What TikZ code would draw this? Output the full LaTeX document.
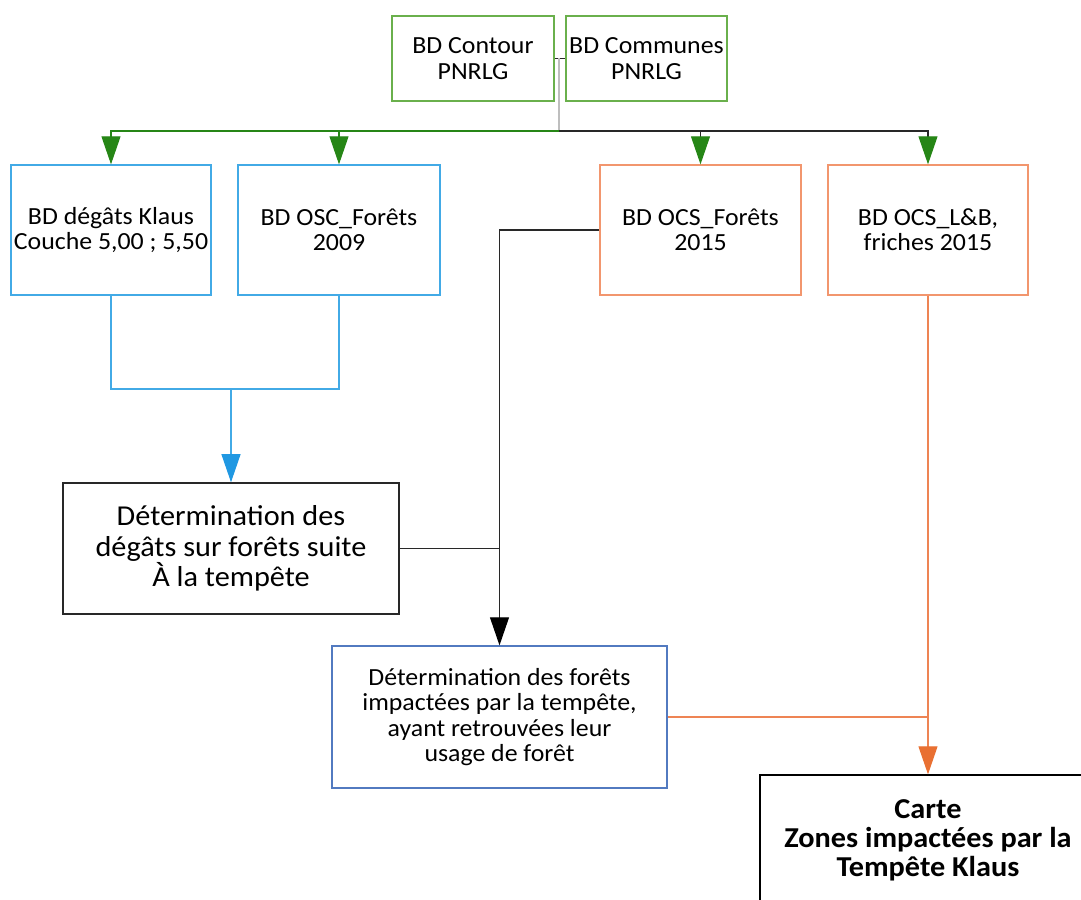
\documentclass[tikz,border=0pt]{standalone}
\usepackage{fontspec}
\setmainfont{Carlito}[FakeStretch=1.05]
\usetikzlibrary{arrows.meta}
\definecolor{vertbox}{RGB}{106,176,76}
\definecolor{vertfl}{RGB}{38,134,22}
\definecolor{bleuclair}{RGB}{66,170,230}
\definecolor{bleufl}{RGB}{32,152,226}
\definecolor{orangebox}{RGB}{242,150,110}
\definecolor{orangetr}{RGB}{238,132,84}
\definecolor{orangefl}{RGB}{233,112,50}
\definecolor{bleuacier}{RGB}{82,122,192}
\definecolor{gris}{RGB}{190,190,190}
\definecolor{noirfl}{RGB}{40,40,40}
\tikzset{
  boite/.style={draw, line width=0.85pt, align=center, inner sep=1pt, font=\fontsize{17.5}{18}\selectfont},
  fl/.style={line width=0.85pt},
  pointe/.style={-{Triangle[width=13.5pt,length=20pt,color=#1]}},
}
\begin{document}
\begin{tikzpicture}[x=0.025cm,y=-0.025cm]
\useasboundingbox (0,0) rectangle (1081,900);
\fill[white] (0,0) rectangle (1081,900);
\clip (0,0) rectangle (1081,900);
% bases de depart
\node[boite, draw=vertbox, minimum width=4.05cm, minimum height=2.125cm] (contour) at (473,58.5) {BD Contour\\PNRLG};
\node[boite, draw=vertbox, minimum width=4.025cm, minimum height=2.125cm] (communes) at (646.5,58.5) {BD Communes\\PNRLG};
\node[boite, draw=bleuclair, minimum width=5cm, minimum height=3.25cm] (degats) at (111,230) {BD dégâts Klaus\\Couche 5,00 ; 5,50};
\node[boite, draw=bleuclair, minimum width=5.05cm, minimum height=3.25cm] (osc) at (339,230) {BD OSC\_Forêts\\2009};
\node[boite, draw=orangebox, minimum width=5.025cm, minimum height=3.25cm] (ocsf) at (700.5,230) {BD OCS\_Forêts\\2015};
\node[boite, draw=orangebox, minimum width=5cm, minimum height=3.25cm] (lb) at (928,230) {BD OCS\_L\&B,\\friches 2015};
% traitements
\node[boite, draw=noirfl, line width=1pt, minimum width=8.4cm, minimum height=3.275cm, font=\fontsize{20.5}{21.5}\selectfont] (detdeg) at (231,548.5) {Détermination des\\dégâts sur forêts suite\\À la tempête};
\node[boite, draw=bleuacier, minimum width=8.375cm, minimum height=3.55cm] (detfor) at (499.5,717) {Détermination des forêts\\impactées par la tempête,\\ayant retrouvées leur\\usage de forêt};
\node[boite, draw=black, minimum width=8.4cm, minimum height=3.25cm, font=\fontsize{20.5}{20.5}\selectfont\bfseries] (carte) at (928,840) {Carte\\Zones impactées par la\\Tempête Klaus};
% liaisons
\coordinate (jhaut) at (559,58.5);
\coordinate (jvert) at (559,131);
\coordinate (jbleu) at (231,389);
\draw[fl,noirfl] (contour) -- (communes);
\draw[fl,gris] (jhaut) -- (jvert);
\draw[fl,vertfl,pointe=vertfl] (jvert) -| (degats.north);
\draw[fl,vertfl,pointe=vertfl] (jvert -| osc.north) -- (osc.north);
\draw[fl,noirfl,pointe=vertfl] (jvert) -| (lb.north);
\draw[fl,noirfl,pointe=vertfl] (jvert -| ocsf.north) -- (ocsf.north);
\draw[fl,bleuclair] (degats.south) |- (jbleu) -| (osc.south);
\draw[fl,bleuclair,pointe=bleufl] (jbleu) -- (detdeg.north);
\draw[fl,noirfl,pointe=black] (ocsf.west) -| (detfor.north);
\draw[fl,noirfl] (detdeg.east) -- (detdeg.east -| detfor.north);
\draw[fl,orangetr,pointe=orangefl] (lb.south) -- (carte.north);
\draw[fl,orangetr] (detfor.east) -- (detfor.east -| lb.south);
\end{tikzpicture}
\end{document}
